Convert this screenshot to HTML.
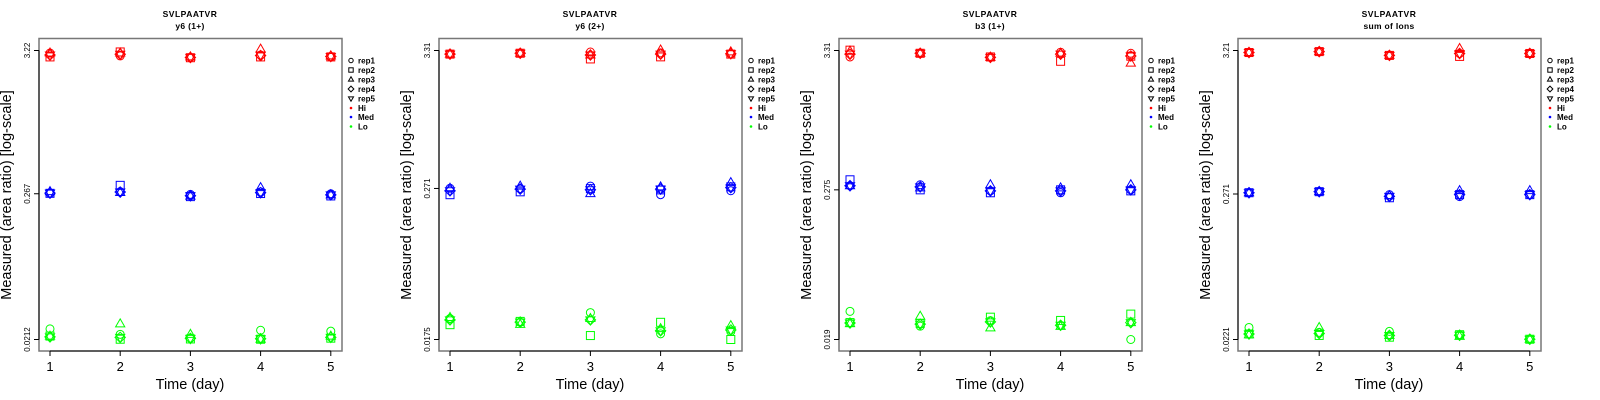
<!DOCTYPE html>
<html><head><meta charset="utf-8"><style>
html,body{margin:0;padding:0;background:#fff;width:1600px;height:400px;overflow:hidden}
svg{display:block;font-family:"Liberation Sans",sans-serif}
</style></head><body>
<svg id="chart" width="1600" height="400"></svg>
<script>
// Shared
const days = [1, 2, 3, 4, 5];
const reps = ["rep1", "rep2", "rep3", "rep4", "rep5"];
const levels = ["Hi", "Med", "Lo"];
const titles = ["y6 (1+)", "y6 (2+)", "b3 (1+)", "sum of Ions"];
const peptide = "SVLPAATVR";
// Y tick labels per panel (top, mid, bottom)
const p1Ticks = [3.22, 0.267, 0.0212];
const p2Ticks = [3.31, 0.271, 0.0175];
const p3Ticks = [3.31, 0.275, 0.019];
const p4Ticks = [3.21, 0.271, 0.0221];
// values[day][rep]
const p1Hi  = [[3.08,2.88,3.08,2.98,2.98],[2.93,3.14,3.08,3.02,3.02],[2.86,2.84,2.88,2.85,2.86],[2.98,2.88,3.30,2.95,2.97],[2.88,2.88,2.93,2.90,2.90]];
const p1Med = [[0.269,0.269,0.277,0.270,0.270],[0.277,0.309,0.273,0.275,0.275],[0.264,0.254,0.256,0.258,0.258],[0.276,0.268,0.297,0.272,0.272],[0.267,0.257,0.262,0.262,0.262]];
const p1Lo  = [[0.0255,0.0225,0.0225,0.0222,0.0222],[0.0232,0.0213,0.0278,0.0220,0.0220],[0.0217,0.0214,0.0232,0.0216,0.0216],[0.0249,0.0213,0.0213,0.0215,0.0215],[0.0245,0.0217,0.0225,0.0220,0.0220]];
const p2Hi  = [[3.10,3.10,3.10,3.10,3.10],[3.15,3.15,3.15,3.15,3.15],[3.22,2.84,3.05,3.05,3.05],[3.17,2.95,3.34,3.10,3.10],[3.10,3.10,3.23,3.12,3.12]];
const p2Med = [[0.272,0.242,0.272,0.260,0.260],[0.270,0.255,0.283,0.268,0.268],[0.283,0.270,0.247,0.265,0.265],[0.242,0.264,0.279,0.268,0.268],[0.260,0.279,0.301,0.275,0.275]];
const p2Lo  = [[0.0256,0.0229,0.0261,0.0250,0.0250],[0.0240,0.0243,0.0230,0.0240,0.0240],[0.0285,0.0188,0.0256,0.0250,0.0250],[0.0194,0.0239,0.0213,0.0205,0.0205],[0.0202,0.0175,0.0225,0.0208,0.0208]];
const p3Hi  = [[2.95,3.33,3.27,3.10,3.10],[3.15,3.15,3.15,3.15,3.15],[2.93,2.95,2.93,2.93,2.93],[3.21,2.73,3.15,3.10,3.10],[3.15,2.99,2.64,3.00,3.00]];
const p3Med = [[0.296,0.329,0.296,0.296,0.296],[0.301,0.275,0.285,0.290,0.290],[0.270,0.261,0.301,0.270,0.270],[0.261,0.275,0.285,0.270,0.270],[0.275,0.270,0.301,0.275,0.275]];
const p3Lo  = [[0.0314,0.0257,0.0252,0.0255,0.0255],[0.0241,0.0253,0.0288,0.0250,0.0250],[0.0266,0.0283,0.0234,0.0260,0.0260],[0.0244,0.0267,0.0240,0.0245,0.0245],[0.0190,0.0299,0.0257,0.0257,0.0257]];
const p4Hi  = [[3.10,3.10,3.10,3.10,3.10],[3.15,3.15,3.15,3.15,3.15],[2.95,2.95,2.95,2.95,2.95],[3.05,2.90,3.32,3.05,3.05],[3.05,3.05,3.05,3.05,3.05]];
const p4Med = [[0.277,0.277,0.277,0.277,0.277],[0.282,0.282,0.282,0.282,0.282],[0.268,0.254,0.263,0.260,0.260],[0.259,0.268,0.287,0.268,0.268],[0.268,0.268,0.287,0.268,0.268]];
const p4Lo  = [[0.0272,0.0243,0.0240,0.0243,0.0243],[0.0250,0.0237,0.0272,0.0245,0.0245],[0.0254,0.0230,0.0237,0.0237,0.0237],[0.0240,0.0240,0.0233,0.0238,0.0238],[0.0222,0.0222,0.0222,0.0222,0.0222]];

const panels = [
  {ticks:p1Ticks, data:[p1Hi,p1Med,p1Lo]},
  {ticks:p2Ticks, data:[p2Hi,p2Med,p2Lo]},
  {ticks:p3Ticks, data:[p3Hi,p3Med,p3Lo]},
  {ticks:p4Ticks, data:[p4Hi,p4Med,p4Lo]}
];
const colors = ["#ff0000","#0000ff","#00ff00"];
const NS = "http://www.w3.org/2000/svg";
const svg = document.getElementById("chart");
function mk(tag, attrs, parent){
  const e = document.createElementNS(NS, tag);
  for (const k in attrs) e.setAttribute(k, attrs[k]);
  (parent||svg).appendChild(e);
  return e;
}
function marker(g, shape, cx, cy, r, col, sw){
  let e;
  if (shape===0) e = mk("circle",{cx:cx,cy:cy,r:r,fill:"none",stroke:col,"stroke-width":sw},g);
  else if (shape===1) e = mk("rect",{x:cx-r,y:cy-r,width:2*r,height:2*r,fill:"none",stroke:col,"stroke-width":sw},g);
  else if (shape===2) e = mk("polygon",{points:`${cx},${cy-r*1.25} ${cx-r*1.15},${cy+r*0.75} ${cx+r*1.15},${cy+r*0.75}`,fill:"none",stroke:col,"stroke-width":sw},g);
  else if (shape===3) e = mk("polygon",{points:`${cx},${cy-r*1.3} ${cx+r*1.3},${cy} ${cx},${cy+r*1.3} ${cx-r*1.3},${cy}`,fill:"none",stroke:col,"stroke-width":sw},g);
  else e = mk("polygon",{points:`${cx},${cy+r*1.25} ${cx-r*1.15},${cy-r*0.75} ${cx+r*1.15},${cy-r*0.75}`,fill:"none",stroke:col,"stroke-width":sw},g);
  return e;
}
panels.forEach((p, i) => {
  const ox = i*400 - (i===3?1:0);
  const g = mk("g",{});
  
  
  const L = ox+39, R = ox+342, T = 38.5, B = 351;
  const yTop = 50.5, yBot = 339.5;
  const lt = Math.log10(p.ticks[0]), lb = Math.log10(p.ticks[2]);
  const yScale = v => yTop + (lt - Math.log10(v)) / (lt - lb) * (yBot - yTop);
  const xScale = d => ox + 50 + (d-1) * 70.2;
  const box = mk("rect",{x:L,y:T,width:R-L,height:B-T,fill:"none",stroke:"#777","stroke-width":1.5},g);
  
  
  const ya = mk("line",{x1:L,y1:yScale(p.ticks[0]),x2:L,y2:yScale(p.ticks[2]),stroke:"#000","stroke-width":1},g);
  
  
  const xa = mk("line",{x1:xScale(1),y1:B,x2:xScale(5),y2:B,stroke:"#000","stroke-width":1},g);
  
  
  p.ticks.forEach(t => {
    const y = yScale(t);
    mk("line",{x1:L-5,y1:y,x2:L,y2:y,stroke:"#000"},g);
    const tx = mk("text",{x:0,y:0,"font-size":8,"text-anchor":"middle",transform:`translate(${L-9},${y}) rotate(-90)`},g);
    tx.textContent = String(t);
    
    
  });
  days.forEach(d => {
    const x = xScale(d);
    mk("line",{x1:x,y1:B,x2:x,y2:B+5,stroke:"#000"},g);
    const tx = mk("text",{x:x,y:B+20,"font-size":13,"text-anchor":"middle"},g);
    tx.textContent = String(d);
    
    
  });
  const xt = mk("text",{x:ox+190,y:389,"font-size":14.5,"text-anchor":"middle"},g);
  xt.textContent = "Time (day)";
  
  
  const yt = mk("text",{x:0,y:0,"font-size":14.5,"text-anchor":"middle",transform:`translate(${ox+11},${195}) rotate(-90)`},g);
  yt.textContent = "Measured (area ratio) [log-scale]";
  
  
  const t1 = mk("text",{x:ox+190,y:17,"font-size":8.5,"font-weight":"bold","text-anchor":"middle","letter-spacing":"0.5"},g);
  t1.textContent = peptide;
  
  
  const t2 = mk("text",{x:ox+190,y:29,"font-size":8.5,"font-weight":"bold","text-anchor":"middle","letter-spacing":"0.3"},g);
  t2.textContent = titles[i];
  
  
  p.data.forEach((lvl, li) => {
    lvl.forEach((arr, di) => {
      arr.forEach((v, ri) => {
        const m = marker(g, ri, xScale(days[di]), yScale(v), 4, colors[li], 1);
        
        
      });
    });
  });
  const legY = [60.5, 70, 79.5, 89, 98.5, 108, 117, 126.5];
  reps.forEach((r, ri) => {
    const lg = mk("g",{},g);
    
    
    marker(lg, ri, ox+351, legY[ri], 2.2, "#000", 1);
    const tx = mk("text",{x:ox+358,y:legY[ri]+3,"font-size":8,"font-weight":"bold"},lg);
    tx.textContent = r;
  });
  levels.forEach((l, li) => {
    const lg = mk("g",{},g);
    
    
    mk("circle",{cx:ox+351,cy:legY[5+li],r:1.3,fill:colors[li]},lg);
    const tx = mk("text",{x:ox+358,y:legY[5+li]+3,"font-size":8,"font-weight":"bold"},lg);
    tx.textContent = l;
  });
});
</script>
</body></html>
